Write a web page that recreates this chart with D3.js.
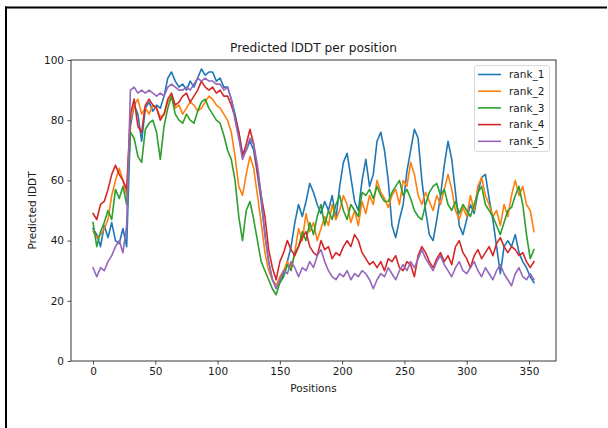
<!DOCTYPE html>
<html>
<head>
<meta charset="utf-8">
<script src="https://cdn.jsdelivr.net/npm/d3@7"></script>
<style>
  body { margin: 0; background: #fff; }
  svg { display: block; }
  text { font-family: "DejaVu Sans", sans-serif; fill: #1a1a1a; }
</style>
</head>
<body>
<svg id="chart" width="608" height="428"></svg>
<script>
// Residue positions sampled every 3 residues
const positions = d3.range(0, 355, 3);

const rank_1 = [44,42,38,45,41,46,40,39,44,38,78,85,82,73,84,86,83,85,84,88,94,96,93,91,92,90,93,91,94,97,95,96,96,93,94,91,91,87,82,76,69,70,73,70,62,53,42,33,27,25,26,29,33,38,46,52,48,53,59,56,52,49,53,50,55,47,58,66,69,61,53,50,60,67,58,62,73,76,70,60,45,41,47,52,63,70,77,74,60,50,42,40,47,55,65,73,67,56,45,42,47,52,49,56,61,62,54,47,38,29,38,40,38,42,36,33,31,28,26];
const rank_2 = [43,41,42,44,47,55,60,64,60,55,80,85,87,82,84,82,85,84,81,82,86,88,84,85,82,84,86,85,83,84,86,88,87,85,84,82,80,76,68,58,55,62,68,64,55,46,36,30,27,25,28,30,33,31,36,44,40,49,43,46,40,44,48,45,52,47,50,55,52,46,50,45,53,49,55,52,60,56,54,51,55,57,52,60,58,66,62,55,52,56,53,50,55,52,57,62,57,50,47,51,48,55,50,58,61,55,52,48,50,45,52,48,55,60,55,58,52,50,43];
const rank_3 = [46,38,43,46,50,47,57,54,58,52,76,74,68,66,77,79,80,76,67,78,84,88,82,80,79,82,80,79,83,86,87,84,82,80,79,75,70,67,60,48,40,50,53,47,40,33,30,27,24,22,26,28,32,30,36,38,43,40,46,42,48,52,45,50,47,52,55,50,47,52,50,48,56,55,57,54,58,55,53,53,56,58,60,55,57,54,50,48,47,52,56,58,59,55,57,52,50,53,49,52,50,48,52,56,58,52,50,48,45,42,46,50,51,55,58,52,42,34,37];
const rank_4 = [49,47,52,53,57,62,65,62,60,57,82,87,78,76,85,87,85,84,80,82,87,89,85,86,88,89,86,88,90,93,91,90,91,89,90,88,88,85,81,76,68,72,77,72,63,55,48,37,31,27,33,36,40,37,35,38,41,43,38,36,35,40,37,38,34,36,35,38,40,38,42,40,36,34,32,33,31,33,30,34,33,35,31,30,33,32,28,35,38,36,33,31,34,36,33,35,32,38,40,36,34,31,35,37,34,36,38,35,39,41,38,36,38,37,35,36,33,31,33];
const rank_5 = [31,28,31,30,33,35,38,40,36,45,90,91,89,90,89,90,89,88,89,88,91,92,91,90,90,91,90,92,94,93,94,93,93,92,92,90,91,87,80,74,67,70,74,72,65,55,42,33,27,24,27,30,29,33,31,28,31,30,33,31,35,37,33,30,28,27,29,28,30,27,29,28,30,29,27,24,27,29,28,31,29,27,30,32,30,33,31,34,37,34,32,30,33,35,32,30,28,31,33,30,29,31,33,30,28,31,29,27,30,32,29,27,25,29,31,28,27,29,27];

const seriesNames = ["rank_1", "rank_2", "rank_3", "rank_4", "rank_5"];
const seriesValues = [rank_1, rank_2, rank_3, rank_4, rank_5];
const seriesColors = ["#1f77b4", "#ff7f0e", "#2ca02c", "#d62728", "#9467bd"];
const xTicks = [0, 50, 100, 150, 200, 250, 300, 350];
const yTicks = [0, 20, 40, 60, 80, 100];

const svg = d3.select("#chart");
const box = { left: 71, right: 556, top: 60, bottom: 361 };

// outer frame (top and left edges)
svg.append("rect").attr("x", 5).attr("y", 6.5).attr("width", 602).attr("height", 2).attr("fill", "#000");
svg.append("rect").attr("x", 5).attr("y", 6.5).attr("width", 2).attr("height", 422).attr("fill", "#000");

const pad = (354 - 0) * 0.05;
const x = d3.scaleLinear().domain([0 - pad, 354 + pad]).range([box.left, box.right]);
const y = d3.scaleLinear().domain([0, 100]).range([box.bottom, box.top]);

// lines
const line = d3.line()
  .x((d, i) => x(positions[i]))
  .y(d => y(d));

const plot = svg.append("g");
seriesValues.forEach((vals, k) => {
  plot.append("path")
    .datum(vals)
    .attr("d", line)
    .attr("fill", "none")
    .attr("stroke", seriesColors[k])
    .attr("stroke-width", 1.6)
    .attr("stroke-linejoin", "round")
    .attr("stroke-linecap", "square");
});

// axes
const xAxis = svg.append("g")
  .attr("transform", `translate(0,${box.bottom})`)
  .call(d3.axisBottom(x).tickValues(xTicks).tickSize(3.5).tickPadding(3.5).tickFormat(d3.format("d")));
const yAxis = svg.append("g")
  .attr("transform", `translate(${box.left},0)`)
  .call(d3.axisLeft(y).tickValues(yTicks).tickSize(3.5).tickPadding(3.5).tickFormat(d3.format("d")));
[xAxis, yAxis].forEach(g => {
  g.select(".domain").remove();
  g.selectAll(".tick line").attr("stroke", "#222").attr("stroke-width", 0.8);
  g.selectAll(".tick text").attr("font-size", 10.5).attr("font-family", "DejaVu Sans, sans-serif").attr("fill", "#1a1a1a");
});

// spines
svg.append("rect")
  .attr("x", box.left).attr("y", box.top)
  .attr("width", box.right - box.left).attr("height", box.bottom - box.top)
  .attr("fill", "none").attr("stroke", "#222").attr("stroke-width", 0.9);

// titles
svg.append("text")
  .attr("x", (box.left + box.right) / 2).attr("y", 52)
  .attr("text-anchor", "middle").attr("font-size", 12.2)
  .text("Predicted lDDT per position");
svg.append("text")
  .attr("x", (box.left + box.right) / 2).attr("y", 392)
  .attr("text-anchor", "middle").attr("font-size", 10.5)
  .text("Positions");
svg.append("text")
  .attr("transform", `translate(36,${(box.top + box.bottom) / 2}) rotate(-90)`)
  .attr("text-anchor", "middle").attr("font-size", 10.5)
  .text("Predicted lDDT");

// legend
const leg = svg.append("g");
leg.append("rect")
  .attr("x", 474.5).attr("y", 65.5).attr("width", 75).attr("height", 86)
  .attr("rx", 2.5).attr("fill", "#fff").attr("fill-opacity", 0.8)
  .attr("stroke", "#d0d0d0").attr("stroke-width", 0.8);
seriesNames.forEach((name, k) => {
  const yy = 74.5 + k * 16.7;
  leg.append("line")
    .attr("x1", 478).attr("x2", 501).attr("y1", yy).attr("y2", yy)
    .attr("stroke", seriesColors[k]).attr("stroke-width", 1.6);
  leg.append("text")
    .attr("x", 509).attr("y", yy).attr("dy", "0.36em")
    .attr("font-size", 10.5)
    .text(name);
});
</script>
</body>
</html>
